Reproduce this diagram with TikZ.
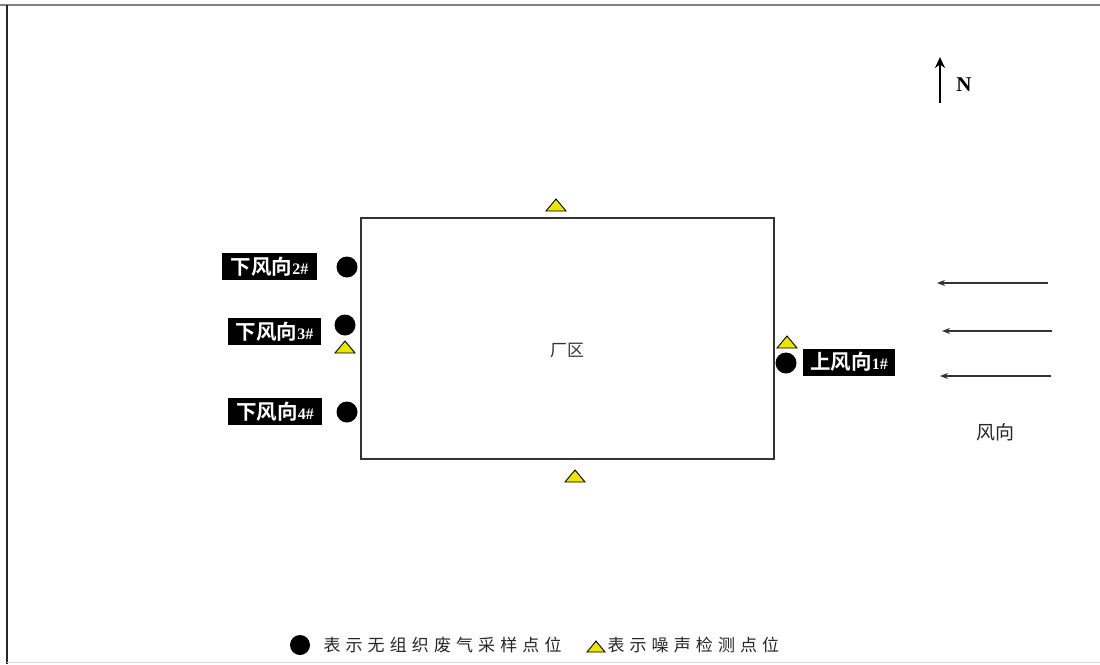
\documentclass[tikz,border=0pt]{standalone}
\usepackage{fontspec}
\setmainfont{Liberation Serif}
\newfontfamily\cjk{Noto Sans CJK SC}
\newfontfamily\cjkbold{Noto Sans CJK SC Bold}
\newfontfamily\cjkleg[LetterSpace=30]{Noto Sans CJK SC}
\usetikzlibrary{arrows.meta}
\definecolor{tri}{RGB}{235,230,0}
\tikzset{
  lab/.style={fill=black,text=white,inner sep=0pt,minimum height=27pt,font=\fontsize{20.5}{20.5}\cjkbold},
  pt/.style={circle,fill=black,inner sep=0pt,minimum size=21pt},
  wind/.style={draw=black!80,line width=1.4pt,-{Stealth[length=8pt,width=6pt]}},
}
\newcommand{\trimark}[2]{\filldraw[fill=tri,draw=black,line width=0.9pt] (#1-10,#2+6) -- (#1+10,#2+6) -- (#1,#2-6) -- cycle;}
\newcommand{\numtxt}[1]{{\fontsize{16}{16}\bfseries\rmfamily #1}}
\begin{document}
\begin{tikzpicture}[x=1pt,y=-1pt]
\useasboundingbox (0,0) rectangle (1100,664);
\fill[white] (0,0) rectangle (1100,664);
% frame
\draw[gray,line width=2.5pt] (0,5) -- (1100,5);
\draw[black!85,line width=2pt] (7,5) -- (7,664);
\draw[black!15,line width=1pt] (7,662) -- (1100,662);
% plant area
\node[draw=black!80,line width=1.4pt,minimum width=413pt,minimum height=241pt,inner sep=0pt] (plant) at (567.5,338.5) {};
\node[font=\fontsize{17}{17}\cjk,text=black!80] (plantlab) at (567,350) {厂区};
% noise points
\trimark{556}{205}
\trimark{575}{476}
\trimark{345}{347}
\trimark{787}{342}
% sampling points
\node[pt] (p2) at (347,267) {};
\node[pt] (p3) at (345,325) {};
\node[pt] (p4) at (347,412) {};
\node[pt] (p1) at (786,363) {};
% labels
\node[lab,minimum width=95pt] (l2) at (269.5,266.5) {下风向\numtxt{2\#}};
\node[lab,minimum width=93pt] (l3) at (274.5,331.5) {下风向\numtxt{3\#}};
\node[lab,minimum width=94pt] (l4) at (275,411.5) {下风向\numtxt{4\#}};
\node[lab,minimum width=92pt] (l1) at (849,362) {上风向\numtxt{1\#}};
% north arrow
\coordinate (ns) at (940,103);
\coordinate (ne) at (940,57);
\draw[line width=2pt,-{Stealth[length=11pt,width=10pt]}] (ns) -- (ne);
\node[font=\fontsize{21}{21}\bfseries] (north) at (964,85) {N};
% wind arrows
\coordinate (w1s) at (1048,283); \coordinate (w1e) at (937,283);
\coordinate (w2s) at (1052,331); \coordinate (w2e) at (942,331);
\coordinate (w3s) at (1051,376); \coordinate (w3e) at (940,376);
\draw[wind] (w1s) -- (w1e);
\draw[wind] (w2s) -- (w2e);
\draw[wind] (w3s) -- (w3e);
\node[font=\fontsize{19}{19}\cjk,text=black!85] (windlab) at (995,432) {风向};
% legend
\node[pt,minimum size=20pt] (legc) at (300,645) {};
\node[font=\fontsize{17}{17}\cjkleg,text=black!85,anchor=west] (legt1) at (320,645) {表示无组织废气采样点位};
\filldraw[fill=tri,draw=black,line width=0.9pt] (587,652) -- (605,652) -- (596,641) -- cycle;
\node[font=\fontsize{17}{17}\cjkleg,text=black!85,anchor=west] (legt2) at (604,645) {表示噪声检测点位};
\end{tikzpicture}
\end{document}
